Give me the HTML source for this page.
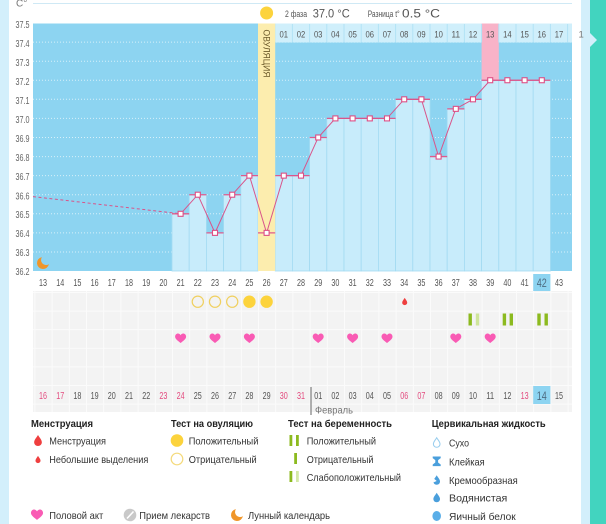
<!DOCTYPE html>
<html><head><meta charset="utf-8"><style>
html,body{margin:0;padding:0;background:#fff;width:606px;height:524px;overflow:hidden}
svg{display:block;font-family:"Liberation Sans",sans-serif}
</style></head><body>
<svg width="606" height="524" viewBox="0 0 606 524" xmlns="http://www.w3.org/2000/svg">
<defs>
<path id="heart" d="M0,4.5 C-1,3.5 -5.5,0.8 -5.5,-1.8 C-5.5,-3.8 -4,-5 -2.7,-5 C-1.5,-5 -0.5,-4.2 0,-3.3 C0.5,-4.2 1.5,-5 2.7,-5 C4,-5 5.5,-3.8 5.5,-1.8 C5.5,0.8 1,3.5 0,4.5Z"/>
<path id="drop" d="M0,-5 C1.5,-2.5 3.5,-0.5 3.5,1.6 C3.5,3.6 1.9,5 0,5 C-1.9,5 -3.5,3.6 -3.5,1.6 C-3.5,-0.5 -1.5,-2.5 0,-5Z"/>
<path id="moon" d="M-1.07,-5.9 A6,6 0 1 0 5.9,1.07 A5,5 0 0 1 -1.07,-5.9Z"/>
<pattern id="grid" x="34.4" y="292" width="17.2" height="18.6" patternUnits="userSpaceOnUse">
<rect width="17.2" height="18.6" fill="#f3f3f3"/>
<rect width="17.2" height="1" fill="#fbfbfb"/>
<rect width="1" height="18.6" fill="#fbfbfb"/>
</pattern>
</defs>

<!-- side strips -->
<rect x="0" y="0" width="9" height="524" fill="#d3effb"/>
<rect x="581" y="0" width="9" height="524" fill="#d3effb"/>
<rect x="590" y="0" width="16" height="524" fill="#42d4bf"/>
<polygon points="590,33 597,40 590,47" fill="#d3effb"/>

<!-- header -->
<line x1="33" y1="3.5" x2="572" y2="3.5" stroke="#cfe9f5" stroke-width="1"/>
<text x="16" y="6.5" font-size="10" fill="#777">C°</text>
<circle cx="266.6" cy="13" r="6.5" fill="#fcd33c"/>
<text x="285" y="17" font-size="9.5" fill="#555" textLength="22" lengthAdjust="spacingAndGlyphs">2 фаза</text>
<text x="312.7" y="17.5" font-size="12" fill="#555" textLength="37" lengthAdjust="spacingAndGlyphs">37.0 °C</text>
<text x="367.7" y="17" font-size="9" fill="#555" textLength="32" lengthAdjust="spacingAndGlyphs">Разница t°</text>
<text x="402" y="17.5" font-size="12" fill="#555" textLength="38" lengthAdjust="spacingAndGlyphs">0.5 °C</text>

<!-- chart bg -->
<rect x="33" y="23.5" width="539" height="247.5" fill="#8dd4f1"/>
<g stroke="#e4f5fc" stroke-width="1" stroke-dasharray="1 2" opacity="0.85">
<line x1="33" y1="42.1" x2="572" y2="42.1"/>
<line x1="33" y1="61.2" x2="572" y2="61.2"/>
<line x1="33" y1="80.2" x2="572" y2="80.2"/>
<line x1="33" y1="99.3" x2="572" y2="99.3"/>
<line x1="33" y1="118.4" x2="572" y2="118.4"/>
<line x1="33" y1="137.5" x2="572" y2="137.5"/>
<line x1="33" y1="156.6" x2="572" y2="156.6"/>
<line x1="33" y1="175.6" x2="572" y2="175.6"/>
<line x1="33" y1="194.7" x2="572" y2="194.7"/>
<line x1="33" y1="213.8" x2="572" y2="213.8"/>
<line x1="33" y1="232.9" x2="572" y2="232.9"/>
<line x1="33" y1="252" x2="572" y2="252"/>
</g>

<!-- y labels -->
<g font-size="10" fill="#666" text-anchor="end">
<text x="29.5" y="28" textLength="14" lengthAdjust="spacingAndGlyphs">37.5</text>
<text x="29.5" y="47" textLength="14" lengthAdjust="spacingAndGlyphs">37.4</text>
<text x="29.5" y="66" textLength="14" lengthAdjust="spacingAndGlyphs">37.3</text>
<text x="29.5" y="85" textLength="14" lengthAdjust="spacingAndGlyphs">37.2</text>
<text x="29.5" y="104" textLength="14" lengthAdjust="spacingAndGlyphs">37.1</text>
<text x="29.5" y="123" textLength="14" lengthAdjust="spacingAndGlyphs">37.0</text>
<text x="29.5" y="142" textLength="14" lengthAdjust="spacingAndGlyphs">36.9</text>
<text x="29.5" y="161" textLength="14" lengthAdjust="spacingAndGlyphs">36.8</text>
<text x="29.5" y="180" textLength="14" lengthAdjust="spacingAndGlyphs">36.7</text>
<text x="29.5" y="199.5" textLength="14" lengthAdjust="spacingAndGlyphs">36.6</text>
<text x="29.5" y="218" textLength="14" lengthAdjust="spacingAndGlyphs">36.5</text>
<text x="29.5" y="237" textLength="14" lengthAdjust="spacingAndGlyphs">36.4</text>
<text x="29.5" y="256" textLength="14" lengthAdjust="spacingAndGlyphs">36.3</text>
<text x="29.5" y="275" textLength="14" lengthAdjust="spacingAndGlyphs">36.2</text>
</g>

<!-- label row -->
<rect x="275.2" y="23.5" width="296.8" height="19" fill="#d0effb"/>
<rect x="481.6" y="23.5" width="17.2" height="56.7" fill="#f8b3c8"/>
<g stroke="#b2e2f6" stroke-width="1">
<line x1="292.4" y1="24" x2="292.4" y2="42.5"/><line x1="309.6" y1="24" x2="309.6" y2="42.5"/>
<line x1="326.8" y1="24" x2="326.8" y2="42.5"/><line x1="344" y1="24" x2="344" y2="42.5"/>
<line x1="361.2" y1="24" x2="361.2" y2="42.5"/><line x1="378.4" y1="24" x2="378.4" y2="42.5"/>
<line x1="395.6" y1="24" x2="395.6" y2="42.5"/><line x1="412.8" y1="24" x2="412.8" y2="42.5"/>
<line x1="430" y1="24" x2="430" y2="42.5"/><line x1="447.2" y1="24" x2="447.2" y2="42.5"/>
<line x1="464.4" y1="24" x2="464.4" y2="42.5"/><line x1="481.6" y1="24" x2="481.6" y2="42.5"/>
<line x1="498.8" y1="24" x2="498.8" y2="42.5"/><line x1="516" y1="24" x2="516" y2="42.5"/>
<line x1="533.2" y1="24" x2="533.2" y2="42.5"/><line x1="550.4" y1="24" x2="550.4" y2="42.5"/>
<line x1="567.6" y1="24" x2="567.6" y2="42.5"/>
</g>
<g font-size="9.5" fill="#555" text-anchor="middle">
<text x="283.8" y="37.5" textLength="8.5" lengthAdjust="spacingAndGlyphs">01</text>
<text x="301" y="37.5" textLength="8.5" lengthAdjust="spacingAndGlyphs">02</text>
<text x="318.2" y="37.5" textLength="8.5" lengthAdjust="spacingAndGlyphs">03</text>
<text x="335.4" y="37.5" textLength="8.5" lengthAdjust="spacingAndGlyphs">04</text>
<text x="352.6" y="37.5" textLength="8.5" lengthAdjust="spacingAndGlyphs">05</text>
<text x="369.8" y="37.5" textLength="8.5" lengthAdjust="spacingAndGlyphs">06</text>
<text x="387" y="37.5" textLength="8.5" lengthAdjust="spacingAndGlyphs">07</text>
<text x="404.2" y="37.5" textLength="8.5" lengthAdjust="spacingAndGlyphs">08</text>
<text x="421.4" y="37.5" textLength="8.5" lengthAdjust="spacingAndGlyphs">09</text>
<text x="438.6" y="37.5" textLength="8.5" lengthAdjust="spacingAndGlyphs">10</text>
<text x="455.8" y="37.5" textLength="8.5" lengthAdjust="spacingAndGlyphs">11</text>
<text x="473" y="37.5" textLength="8.5" lengthAdjust="spacingAndGlyphs">12</text>
<text x="490.2" y="37.5" textLength="8.5" lengthAdjust="spacingAndGlyphs">13</text>
<text x="507.4" y="37.5" textLength="8.5" lengthAdjust="spacingAndGlyphs">14</text>
<text x="524.6" y="37.5" textLength="8.5" lengthAdjust="spacingAndGlyphs">15</text>
<text x="541.8" y="37.5" textLength="8.5" lengthAdjust="spacingAndGlyphs">16</text>
<text x="559" y="37.5" textLength="8.5" lengthAdjust="spacingAndGlyphs">17</text>
</g>
<text x="578.5" y="37.5" font-size="9.5" fill="#777">1</text>

<!-- bars -->
<g fill="#c8ecfb" stroke="#a3dbf2" stroke-width="0.8">
<rect x="172" y="213.8" width="17.2" height="57.2"/>
<rect x="189.2" y="194.72" width="17.2" height="76.28"/>
<rect x="206.4" y="232.88" width="17.2" height="38.12"/>
<rect x="223.6" y="194.72" width="17.2" height="76.28"/>
<rect x="240.8" y="175.64" width="17.2" height="95.36"/>
<rect x="275.2" y="175.64" width="17.2" height="95.36"/>
<rect x="292.4" y="175.64" width="17.2" height="95.36"/>
<rect x="309.6" y="137.48" width="17.2" height="133.52"/>
<rect x="326.8" y="118.4" width="17.2" height="152.6"/>
<rect x="344" y="118.4" width="17.2" height="152.6"/>
<rect x="361.2" y="118.4" width="17.2" height="152.6"/>
<rect x="378.4" y="118.4" width="17.2" height="152.6"/>
<rect x="395.6" y="99.32" width="17.2" height="171.68"/>
<rect x="412.8" y="99.32" width="17.2" height="171.68"/>
<rect x="430" y="156.56" width="17.2" height="114.44"/>
<rect x="447.2" y="108.86" width="17.2" height="162.14"/>
<rect x="464.4" y="99.32" width="17.2" height="171.68"/>
<rect x="481.6" y="80.24" width="17.2" height="190.76"/>
<rect x="498.8" y="80.24" width="17.2" height="190.76"/>
<rect x="516" y="80.24" width="17.2" height="190.76"/>
<rect x="533.2" y="80.24" width="17.2" height="190.76"/>
</g>

<!-- ovulation band -->
<rect x="258" y="23.5" width="17.2" height="247.5" fill="#fcedae"/>
<text transform="translate(263.3,29.5) rotate(90)" font-size="9" fill="#6b5a2a" textLength="48" lengthAdjust="spacingAndGlyphs">ОВУЛЯЦИЯ</text>

<!-- moon in chart -->
<use href="#moon" transform="translate(43,263)" fill="#f0962a"/>

<!-- dashed -->
<line x1="33" y1="196.6" x2="180.6" y2="213.8" stroke="#d9548a" stroke-width="1" stroke-dasharray="3 2.5"/>

<!-- ticks -->
<g stroke="#dd5b8d" stroke-width="1.3">
<line x1="172" y1="213.8" x2="189.2" y2="213.8"/>
<line x1="189.2" y1="194.72" x2="206.4" y2="194.72"/>
<line x1="206.4" y1="232.88" x2="223.6" y2="232.88"/>
<line x1="223.6" y1="194.72" x2="240.8" y2="194.72"/>
<line x1="240.8" y1="175.64" x2="258" y2="175.64"/>
<line x1="258" y1="232.88" x2="275.2" y2="232.88"/>
<line x1="275.2" y1="175.64" x2="292.4" y2="175.64"/>
<line x1="292.4" y1="175.64" x2="309.6" y2="175.64"/>
<line x1="309.6" y1="137.48" x2="326.8" y2="137.48"/>
<line x1="326.8" y1="118.4" x2="344" y2="118.4"/>
<line x1="344" y1="118.4" x2="361.2" y2="118.4"/>
<line x1="361.2" y1="118.4" x2="378.4" y2="118.4"/>
<line x1="378.4" y1="118.4" x2="395.6" y2="118.4"/>
<line x1="395.6" y1="99.32" x2="412.8" y2="99.32"/>
<line x1="412.8" y1="99.32" x2="430" y2="99.32"/>
<line x1="430" y1="156.56" x2="447.2" y2="156.56"/>
<line x1="447.2" y1="108.86" x2="464.4" y2="108.86"/>
<line x1="464.4" y1="99.32" x2="481.6" y2="99.32"/>
<line x1="481.6" y1="80.24" x2="498.8" y2="80.24"/>
<line x1="498.8" y1="80.24" x2="516" y2="80.24"/>
<line x1="516" y1="80.24" x2="533.2" y2="80.24"/>
<line x1="533.2" y1="80.24" x2="550.4" y2="80.24"/>
</g>
<polyline fill="none" stroke="#d9548a" stroke-width="1" points="180.6,213.8 197.8,194.72 215,232.88 232.2,194.72 249.4,175.64 266.6,232.88 283.8,175.64 301,175.64 318.2,137.48 335.4,118.4 352.6,118.4 369.8,118.4 387,118.4 404.2,99.32 421.4,99.32 438.6,156.56 455.8,108.86 473,99.32 490.2,80.24 507.4,80.24 524.6,80.24 541.8,80.24"/>
<g fill="#fff" stroke="#dd4f85" stroke-width="1.1">
<rect x="178.1" y="211.3" width="5" height="5"/>
<rect x="195.3" y="192.22" width="5" height="5"/>
<rect x="212.5" y="230.38" width="5" height="5"/>
<rect x="229.7" y="192.22" width="5" height="5"/>
<rect x="246.9" y="173.14" width="5" height="5"/>
<rect x="264.1" y="230.38" width="5" height="5"/>
<rect x="281.3" y="173.14" width="5" height="5"/>
<rect x="298.5" y="173.14" width="5" height="5"/>
<rect x="315.7" y="134.98" width="5" height="5"/>
<rect x="332.9" y="115.9" width="5" height="5"/>
<rect x="350.1" y="115.9" width="5" height="5"/>
<rect x="367.3" y="115.9" width="5" height="5"/>
<rect x="384.5" y="115.9" width="5" height="5"/>
<rect x="401.7" y="96.82" width="5" height="5"/>
<rect x="418.9" y="96.82" width="5" height="5"/>
<rect x="436.1" y="154.06" width="5" height="5"/>
<rect x="453.3" y="106.36" width="5" height="5"/>
<rect x="470.5" y="96.82" width="5" height="5"/>
<rect x="487.7" y="77.74" width="5" height="5"/>
<rect x="504.9" y="77.74" width="5" height="5"/>
<rect x="522.1" y="77.74" width="5" height="5"/>
<rect x="539.3" y="77.74" width="5" height="5"/>
</g>

<!-- day number row -->
<rect x="533.2" y="274" width="17.2" height="17" fill="#8dd4f1"/>
<g font-size="10" fill="#555" text-anchor="middle">
<text x="43" y="286" textLength="8" lengthAdjust="spacingAndGlyphs">13</text>
<text x="60.2" y="286" textLength="8" lengthAdjust="spacingAndGlyphs">14</text>
<text x="77.4" y="286" textLength="8" lengthAdjust="spacingAndGlyphs">15</text>
<text x="94.6" y="286" textLength="8" lengthAdjust="spacingAndGlyphs">16</text>
<text x="111.8" y="286" textLength="8" lengthAdjust="spacingAndGlyphs">17</text>
<text x="129" y="286" textLength="8" lengthAdjust="spacingAndGlyphs">18</text>
<text x="146.2" y="286" textLength="8" lengthAdjust="spacingAndGlyphs">19</text>
<text x="163.4" y="286" textLength="8" lengthAdjust="spacingAndGlyphs">20</text>
<text x="180.6" y="286" textLength="8" lengthAdjust="spacingAndGlyphs">21</text>
<text x="197.8" y="286" textLength="8" lengthAdjust="spacingAndGlyphs">22</text>
<text x="215" y="286" textLength="8" lengthAdjust="spacingAndGlyphs">23</text>
<text x="232.2" y="286" textLength="8" lengthAdjust="spacingAndGlyphs">24</text>
<text x="249.4" y="286" textLength="8" lengthAdjust="spacingAndGlyphs">25</text>
<text x="266.6" y="286" textLength="8" lengthAdjust="spacingAndGlyphs">26</text>
<text x="283.8" y="286" textLength="8" lengthAdjust="spacingAndGlyphs">27</text>
<text x="301" y="286" textLength="8" lengthAdjust="spacingAndGlyphs">28</text>
<text x="318.2" y="286" textLength="8" lengthAdjust="spacingAndGlyphs">29</text>
<text x="335.4" y="286" textLength="8" lengthAdjust="spacingAndGlyphs">30</text>
<text x="352.6" y="286" textLength="8" lengthAdjust="spacingAndGlyphs">31</text>
<text x="369.8" y="286" textLength="8" lengthAdjust="spacingAndGlyphs">32</text>
<text x="387" y="286" textLength="8" lengthAdjust="spacingAndGlyphs">33</text>
<text x="404.2" y="286" textLength="8" lengthAdjust="spacingAndGlyphs">34</text>
<text x="421.4" y="286" textLength="8" lengthAdjust="spacingAndGlyphs">35</text>
<text x="438.6" y="286" textLength="8" lengthAdjust="spacingAndGlyphs">36</text>
<text x="455.8" y="286" textLength="8" lengthAdjust="spacingAndGlyphs">37</text>
<text x="473" y="286" textLength="8" lengthAdjust="spacingAndGlyphs">38</text>
<text x="490.2" y="286" textLength="8" lengthAdjust="spacingAndGlyphs">39</text>
<text x="507.4" y="286" textLength="8" lengthAdjust="spacingAndGlyphs">40</text>
<text x="524.6" y="286" textLength="8" lengthAdjust="spacingAndGlyphs">41</text>
<text x="541.8" y="287" font-size="11.5" fill="#4d6b80" textLength="10" lengthAdjust="spacingAndGlyphs">42</text>
<text x="559" y="286" textLength="8" lengthAdjust="spacingAndGlyphs">43</text>
</g>

<!-- grey event area -->
<rect x="33" y="291" width="539" height="121" fill="url(#grid)"/>

<!-- ovulation tests -->
<g fill="none" stroke="#f0d060" stroke-width="1.2">
<circle cx="197.8" cy="301.7" r="5.6"/>
<circle cx="215" cy="301.7" r="5.6"/>
<circle cx="232.2" cy="301.7" r="5.6"/>
</g>
<circle cx="249.4" cy="301.7" r="6.2" fill="#fcd33c"/>
<circle cx="266.6" cy="301.7" r="6.2" fill="#fcd33c"/>
<use href="#drop" transform="translate(404.7,301.5) scale(0.72)" fill="#ee3f3f"/>

<!-- pregnancy tests -->
<rect x="468.5" y="313.5" width="3.4" height="12" fill="#8cba1f"/>
<rect x="475.8" y="313.5" width="3.4" height="12" fill="#cfe59c"/>
<rect x="502.7" y="313.5" width="3.4" height="12" fill="#8cba1f"/>
<rect x="509.6" y="313.5" width="3.4" height="12" fill="#8cba1f"/>
<rect x="537.3" y="313.5" width="3.4" height="12" fill="#8cba1f"/>
<rect x="544.5" y="313.5" width="3.4" height="12" fill="#8cba1f"/>

<!-- hearts -->
<g fill="#f95bb4">
<use href="#heart" transform="translate(180.6,338.5)"/>
<use href="#heart" transform="translate(215,338.5)"/>
<use href="#heart" transform="translate(249.4,338.5)"/>
<use href="#heart" transform="translate(318.2,338.5)"/>
<use href="#heart" transform="translate(352.6,338.5)"/>
<use href="#heart" transform="translate(387,338.5)"/>
<use href="#heart" transform="translate(455.8,338.5)"/>
<use href="#heart" transform="translate(490.2,338.5)"/>
</g>

<!-- date row -->
<rect x="533.2" y="386" width="17.2" height="18" fill="#8dd4f1"/>
<line x1="311" y1="387" x2="311" y2="415" stroke="#666" stroke-width="1"/>
<g font-size="10" fill="#555" text-anchor="middle">
<text x="43" y="399" fill="#e34b7f" textLength="8" lengthAdjust="spacingAndGlyphs">16</text>
<text x="60.2" y="399" fill="#e34b7f" textLength="8" lengthAdjust="spacingAndGlyphs">17</text>
<text x="77.4" y="399" textLength="8" lengthAdjust="spacingAndGlyphs">18</text>
<text x="94.6" y="399" textLength="8" lengthAdjust="spacingAndGlyphs">19</text>
<text x="111.8" y="399" textLength="8" lengthAdjust="spacingAndGlyphs">20</text>
<text x="129" y="399" textLength="8" lengthAdjust="spacingAndGlyphs">21</text>
<text x="146.2" y="399" textLength="8" lengthAdjust="spacingAndGlyphs">22</text>
<text x="163.4" y="399" fill="#e34b7f" textLength="8" lengthAdjust="spacingAndGlyphs">23</text>
<text x="180.6" y="399" fill="#e34b7f" textLength="8" lengthAdjust="spacingAndGlyphs">24</text>
<text x="197.8" y="399" textLength="8" lengthAdjust="spacingAndGlyphs">25</text>
<text x="215" y="399" textLength="8" lengthAdjust="spacingAndGlyphs">26</text>
<text x="232.2" y="399" textLength="8" lengthAdjust="spacingAndGlyphs">27</text>
<text x="249.4" y="399" textLength="8" lengthAdjust="spacingAndGlyphs">28</text>
<text x="266.6" y="399" textLength="8" lengthAdjust="spacingAndGlyphs">29</text>
<text x="283.8" y="399" fill="#e34b7f" textLength="8" lengthAdjust="spacingAndGlyphs">30</text>
<text x="301" y="399" fill="#e34b7f" textLength="8" lengthAdjust="spacingAndGlyphs">31</text>
<text x="318.2" y="399" textLength="8" lengthAdjust="spacingAndGlyphs">01</text>
<text x="335.4" y="399" textLength="8" lengthAdjust="spacingAndGlyphs">02</text>
<text x="352.6" y="399" textLength="8" lengthAdjust="spacingAndGlyphs">03</text>
<text x="369.8" y="399" textLength="8" lengthAdjust="spacingAndGlyphs">04</text>
<text x="387" y="399" textLength="8" lengthAdjust="spacingAndGlyphs">05</text>
<text x="404.2" y="399" fill="#e34b7f" textLength="8" lengthAdjust="spacingAndGlyphs">06</text>
<text x="421.4" y="399" fill="#e34b7f" textLength="8" lengthAdjust="spacingAndGlyphs">07</text>
<text x="438.6" y="399" textLength="8" lengthAdjust="spacingAndGlyphs">08</text>
<text x="455.8" y="399" textLength="8" lengthAdjust="spacingAndGlyphs">09</text>
<text x="473" y="399" textLength="8" lengthAdjust="spacingAndGlyphs">10</text>
<text x="490.2" y="399" textLength="8" lengthAdjust="spacingAndGlyphs">11</text>
<text x="507.4" y="399" textLength="8" lengthAdjust="spacingAndGlyphs">12</text>
<text x="524.6" y="399" fill="#e34b7f" textLength="8" lengthAdjust="spacingAndGlyphs">13</text>
<text x="541.8" y="400" font-size="11.5" fill="#4d6b80" textLength="10" lengthAdjust="spacingAndGlyphs">14</text>
<text x="559" y="399" textLength="8" lengthAdjust="spacingAndGlyphs">15</text>
</g>
<text x="315" y="413.5" font-size="10" fill="#777" textLength="38" lengthAdjust="spacingAndGlyphs">Февраль</text>

<!-- legend headers -->
<g font-size="10.5" font-weight="bold" fill="#222">
<text x="31" y="427" textLength="62" lengthAdjust="spacingAndGlyphs">Менструация</text>
<text x="171" y="427" textLength="82" lengthAdjust="spacingAndGlyphs">Тест на овуляцию</text>
<text x="288" y="427" textLength="104" lengthAdjust="spacingAndGlyphs">Тест на беременность</text>
<text x="431.7" y="427" textLength="114" lengthAdjust="spacingAndGlyphs">Цервикальная жидкость</text>
</g>

<!-- legend items -->
<g font-size="10.5" fill="#333">
<text x="49.3" y="444.5" textLength="56.7" lengthAdjust="spacingAndGlyphs">Менструация</text>
<text x="49.3" y="463" textLength="99" lengthAdjust="spacingAndGlyphs">Небольшие выделения</text>
<text x="188.7" y="444.5" textLength="69.7" lengthAdjust="spacingAndGlyphs">Положительный</text>
<text x="188.7" y="463" textLength="68" lengthAdjust="spacingAndGlyphs">Отрицательный</text>
<text x="306.7" y="444.5" textLength="69.3" lengthAdjust="spacingAndGlyphs">Положительный</text>
<text x="306.7" y="463" textLength="66.7" lengthAdjust="spacingAndGlyphs">Отрицательный</text>
<text x="306.7" y="481" textLength="94.3" lengthAdjust="spacingAndGlyphs">Слабоположительный</text>
<text x="449" y="446.5" textLength="20" lengthAdjust="spacingAndGlyphs">Сухо</text>
<text x="449" y="465.5" textLength="35.7" lengthAdjust="spacingAndGlyphs">Клейкая</text>
<text x="449" y="484" textLength="68.7" lengthAdjust="spacingAndGlyphs">Кремообразная</text>
<text x="449" y="501.5" textLength="58.3" lengthAdjust="spacingAndGlyphs">Водянистая</text>
<text x="449" y="520" textLength="66.7" lengthAdjust="spacingAndGlyphs">Яичный белок</text>
<text x="49.3" y="519" textLength="54" lengthAdjust="spacingAndGlyphs">Половой акт</text>
<text x="139.3" y="519" textLength="70.7" lengthAdjust="spacingAndGlyphs">Прием лекарств</text>
<text x="248" y="519" textLength="82" lengthAdjust="spacingAndGlyphs">Лунный календарь</text>
</g>

<!-- legend icons -->
<use href="#drop" transform="translate(38,440.5) scale(1.1)" fill="#ef3f3f"/>
<use href="#drop" transform="translate(38,459.5) scale(0.72)" fill="#ef3f3f"/>
<circle cx="177" cy="440.5" r="6.3" fill="#fcd33c"/>
<circle cx="177" cy="459" r="5.8" fill="none" stroke="#f4da7c" stroke-width="1.2"/>
<rect x="289.5" y="435" width="2.8" height="11" fill="#8cba1f"/>
<rect x="296" y="435" width="2.8" height="11" fill="#8cba1f"/>
<rect x="294.2" y="453" width="2.8" height="11" fill="#8cba1f"/>
<rect x="289.5" y="471" width="2.8" height="11" fill="#8cba1f"/>
<rect x="296" y="471" width="2.8" height="11" fill="#d5e9a8"/>
<use href="#drop" transform="translate(436.7,442.5) scale(0.95)" fill="#fff" stroke="#98cdee" stroke-width="1.1"/>
<path d="M432.7,456.5 h8 v1.6 l-2.6,2 v2.4 l2.6,2 v1.6 h-8 v-1.6 l2.6,-2 v-2.4 l-2.6,-2Z" fill="#4a9fdc"/>
<use href="#drop" transform="translate(436.7,480) scale(0.95)" fill="#4a9fdc"/>
<path d="M433.2,478 L436.7,481 L433.2,482.5Z" fill="#fff"/>
<use href="#drop" transform="translate(436.7,497.5) scale(0.95)" fill="#4a9fdc"/>
<ellipse cx="436.7" cy="516" rx="4.3" ry="5" fill="#5aaee8"/>
<use href="#heart" transform="translate(37,515) scale(1.1)" fill="#f95bb4"/>
<circle cx="130" cy="515" r="6.3" fill="#c9c9c9"/>
<line x1="127" y1="518.5" x2="133.5" y2="511.5" stroke="#fff" stroke-width="1.6"/>
<use href="#moon" transform="translate(237,515)" fill="#f0962a"/>
</svg>
</body></html>
